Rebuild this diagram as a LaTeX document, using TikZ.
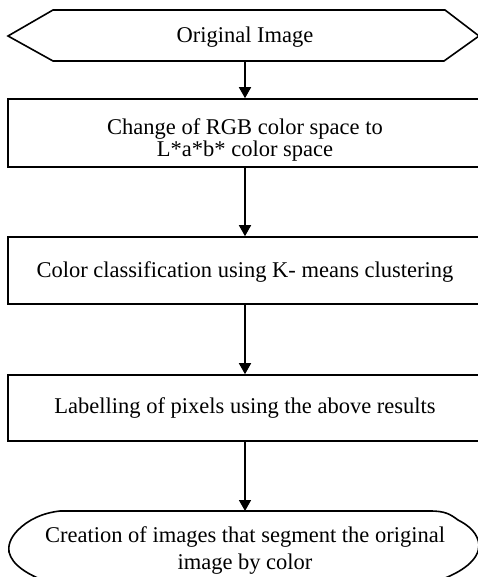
\documentclass[tikz,border=0pt]{standalone}
\usepackage{fontspec}
\setmainfont{Liberation Serif}
\usetikzlibrary{arrows.meta}
\begin{document}
\begin{tikzpicture}[x=1bp,y=-1bp,
  line width=1.6bp,
  every node/.style={font=\fontsize{22.5bp}{20bp}\selectfont, inner sep=0pt},
  procbox/.style={draw, rectangle, minimum width=474bp},
  flowarrow/.style={-{Triangle[length=11bp,width=12bp]}}]
\useasboundingbox (0,0) rectangle (478,577);
\clip (0,0) rectangle (478,577);
% hexagon
\coordinate (hL) at (8,36);
\coordinate (hTL) at (53,10);
\coordinate (hTR) at (445,10);
\coordinate (hR) at (479,36);
\coordinate (hBR) at (444,61);
\coordinate (hBL) at (53,61);
\draw (hL) -- (hTL) -- (hTR) -- (hR) -- (hBR) -- (hBL) -- cycle;
\node[anchor=base] (orig) at (245,43) {Original Image};
\coordinate (origB) at (245,61);
% boxes
\node[procbox, minimum height=68bp] (b1) at (245,133) {};
\node[align=center] (t1) at (245,140) {Change of RGB color space to\\L*a*b* color space};
\node[procbox, minimum height=67bp] (b2) at (245,270.5) {};
\node[anchor=base] (t2) at (245,277) {Color classification using K- means clustering};
\node[procbox, minimum height=66bp] (b3) at (245,408) {};
\node[anchor=base] (t3) at (245,413) {Labelling of pixels using the above results};
% final terminal
\draw (60,511) -- (430,511)
  .. controls (445,511) and (450,514) .. (458,520)
  .. controls (470,526) and (478,534) .. (479,545)
  .. controls (479,560) and (462,572) .. (440,580)
  (60,511) .. controls (42,513) and (28,520) .. (18,530)
  .. controls (10,538) and (8,546) .. (9,552)
  .. controls (12,565) and (28,575) .. (48,582);
\coordinate (finT) at (245,511);
\node[align=center, font=\fontsize{22.5bp}{27bp}\selectfont] (fin) at (245,550) {Creation of images that segment the original\\image by color};
% arrows
\draw[flowarrow] (origB) -- (b1.north);
\draw[flowarrow] (b1.south) -- (b2.north);
\draw[flowarrow] (b2.south) -- (b3.north);
\draw[flowarrow] (b3.south) -- (finT);
\end{tikzpicture}
\end{document}
